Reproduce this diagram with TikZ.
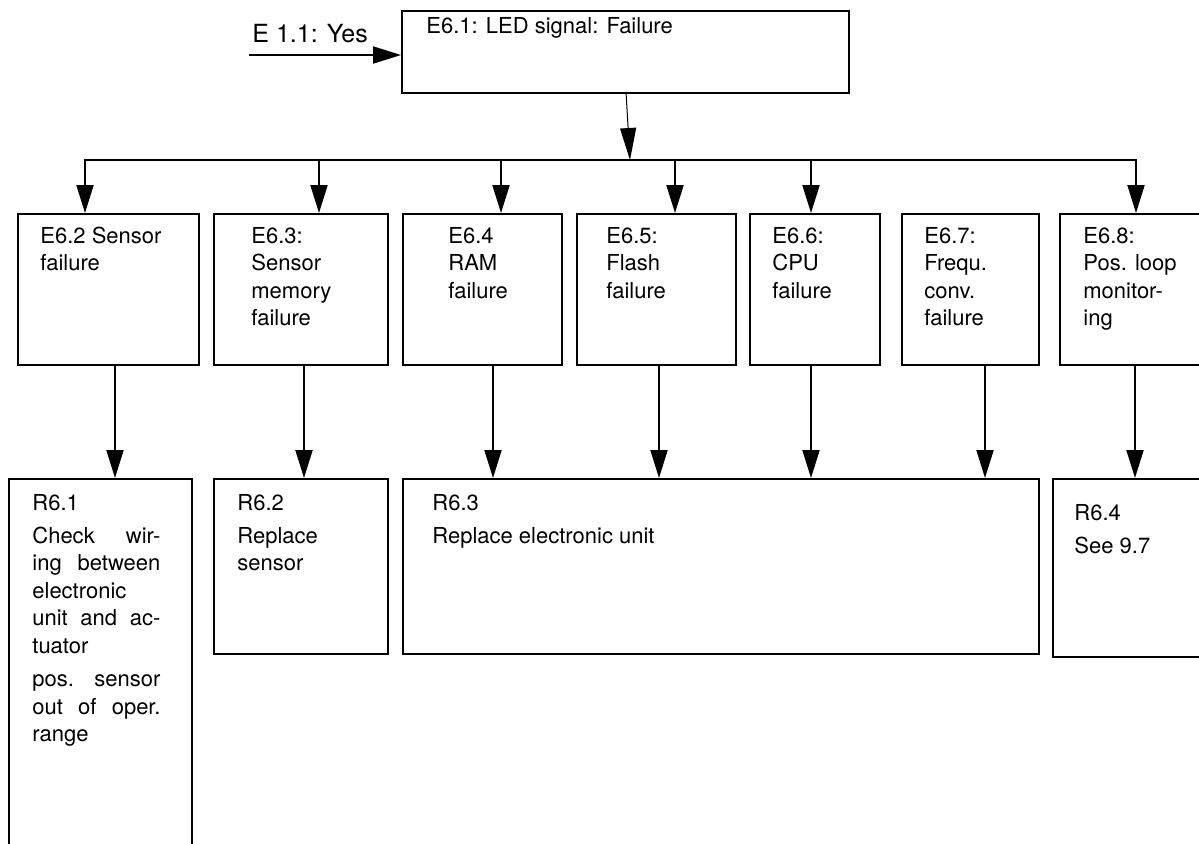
\documentclass[tikz,border=0pt]{standalone}
\usepackage{fontspec}
\setmainfont{TeX Gyre Heros}
\usetikzlibrary{arrows.meta}

\begin{document}
\begin{tikzpicture}[x=0.5pt, y=-0.5pt,
    box/.style={draw, line width=1pt, anchor=north west, inner sep=0pt},
    txt/.style={anchor=north west, inner sep=0pt, align=left, font=\fontsize{11}{13.75}\selectfont},
    arr/.style={line width=1pt, -{Triangle[length=14pt,width=8.5pt]}}]
\useasboundingbox (0,0) rectangle (1199,843);
\clip (0,0) rectangle (1199,843);

% Draw the top box and the incoming arrow
\node at (401,10) [box, minimum width=223.5pt, minimum height=41pt] (E61) {};
\node at (426,13.75) [txt] (T61) {\strut E6.1: LED signal: Failure};
\node at (252,42) [anchor=base west, inner sep=0pt, font=\fontsize{12.5}{15}\selectfont] (Yes) {E 1.1: Yes};
\coordinate (In) at (249,55);
\draw[arr] (In) -- (In -| E61.west);

% line from the top box down to the bus
\coordinate (Top) at (626,92);
\coordinate (J) at (630,160);
\draw[line width=0.5pt, -{Triangle[length=16pt,width=8pt]}] (Top) -- (J);

% the bus
\coordinate (B1) at (85,160);
\coordinate (B2) at (319,160);
\coordinate (B3) at (501,160);
\coordinate (B4) at (675,160);
\coordinate (B5) at (811,160);
\coordinate (B6) at (1136,160);
\draw[line width=1pt, line cap=rect] (B1) -- (B6);

% failure boxes
\node at (17,213) [box, minimum width=90.5pt, minimum height=75.5pt] (E62) {};
\node at (213,213) [box, minimum width=87pt, minimum height=75.5pt] (E63) {};
\node at (402,213) [box, minimum width=79.5pt, minimum height=75.5pt] (E64) {};
\node at (576,213) [box, minimum width=79.5pt, minimum height=75.5pt] (E65) {};
\node at (749,213) [box, minimum width=65pt, minimum height=75.5pt] (E66) {};
\node at (901,213) [box, minimum width=68.5pt, minimum height=75.5pt] (E67) {};
\node at (1059,213) [box, minimum width=72pt, minimum height=75.5pt] (E68) {};

\node at (40,223.75) [txt] (T62) {\strut E6.2 Sensor\\failure};
\node at (251,223.75) [txt] (T63) {\strut E6.3:\\Sensor\\memory\\failure};
\node at (448,223.75) [txt] (T64) {\strut E6.4\\RAM\\failure};
\node at (606,223.75) [txt] (T65) {\strut E6.5:\\Flash\\failure};
\node at (772,223.75) [txt] (T66) {\strut E6.6:\\CPU\\failure};
\node at (924,223.75) [txt] (T67) {\strut E6.7:\\Frequ.\\conv.\\failure};
\node at (1083,223.75) [txt] (T68) {\strut E6.8:\\Pos. loop\\monitor-\\ing};

\draw[arr] (B1) -- (B1 |- E62.north);
\draw[arr] (B2) -- (B2 |- E63.north);
\draw[arr] (B3) -- (B3 |- E64.north);
\draw[arr] (B4) -- (B4 |- E65.north);
\draw[arr] (B5) -- (B5 |- E66.north);
\draw[arr] (B6) -- (B6 |- E68.north);

% remedy boxes
\node at (8,478) [box, minimum width=91.5pt, minimum height=191pt] (R61) {};
\node at (213,478) [box, minimum width=87pt, minimum height=87.5pt] (R62) {};
\node at (402,478) [box, minimum width=318pt, minimum height=87.5pt] (R63) {};
\node at (1052,478) [box, minimum width=75.5pt, minimum height=89pt] (R64) {};

\node at (32,490.75) [txt] (T71) {\strut R6.1\\[2.75pt]
    \makebox[64pt][s]{Check wir-}\\
    \makebox[64pt][s]{ing between}\\
    electronic\\
    \makebox[64pt][s]{unit and ac-}\\
    tuator\\[3pt]
    \makebox[64pt][s]{pos. sensor}\\
    \makebox[64pt][s]{out of oper.}\\
    range};
\node at (237,490.75) [txt] (T72) {\strut R6.2\\[2.75pt]Replace\\sensor};
\node at (432,490.75) [txt] (T73) {\strut R6.3\\[2.75pt]Replace electronic unit};
\node at (1074,500.75) [txt] (T74) {\strut R6.4\\[2.75pt]See 9.7};

% arrows from failures to remedies
\coordinate (D1) at (115,420);
\coordinate (D2) at (304,420);
\coordinate (D3) at (493,420);
\coordinate (D4) at (659,420);
\coordinate (D5) at (811,420);
\coordinate (D6) at (985,420);
\coordinate (D7) at (1135,420);
\draw[arr] (D1 |- E62.south) -- (D1 |- R61.north);
\draw[arr] (D2 |- E63.south) -- (D2 |- R62.north);
\draw[arr] (D3 |- E64.south) -- (D3 |- R63.north);
\draw[arr] (D4 |- E65.south) -- (D4 |- R63.north);
\draw[arr] (D5 |- E66.south) -- (D5 |- R63.north);
\draw[arr] (D6 |- E67.south) -- (D6 |- R63.north);
\draw[arr] (D7 |- E68.south) -- (D7 |- R64.north);
\end{tikzpicture}
\end{document}
